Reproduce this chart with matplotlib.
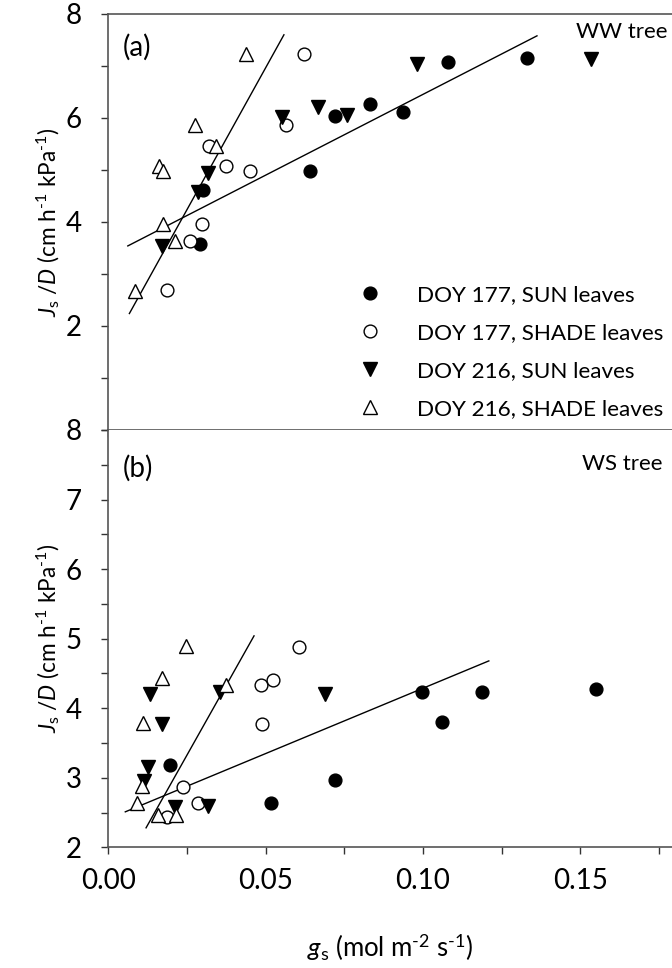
import matplotlib
matplotlib.use("Agg")
import matplotlib.pyplot as plt
from matplotlib.ticker import MultipleLocator, FixedLocator
from matplotlib.lines import Line2D

plt.rcParams['font.family'] = ['Lato', 'DejaVu Sans']
plt.rcParams['mathtext.fontset'] = 'custom'
plt.rcParams['mathtext.rm'] = 'Lato'
plt.rcParams['mathtext.it'] = 'Lato:italic'

# ---------------- data: panel (a) WW tree ----------------
a_sun177_x = [0.029, 0.030, 0.064, 0.072, 0.083, 0.0935, 0.108, 0.133]
a_sun177_y = [3.57, 4.62, 4.98, 6.04, 6.26, 6.11, 7.08, 7.16]
a_shade177_x = [0.0186, 0.0261, 0.0298, 0.0320, 0.0373, 0.0450, 0.0566, 0.0621]
a_shade177_y = [2.69, 3.64, 3.97, 5.47, 5.08, 4.99, 5.87, 7.23]
a_sun216_x = [0.0171, 0.0285, 0.0316, 0.0553, 0.0665, 0.0757, 0.098, 0.1535]
a_sun216_y = [3.53, 4.58, 4.95, 6.01, 6.22, 6.06, 7.04, 7.13]
a_shade216_x = [0.0086, 0.0173, 0.0213, 0.0162, 0.0173, 0.0274, 0.0343, 0.0439]
a_shade216_y = [2.68, 3.97, 3.64, 5.08, 4.99, 5.87, 5.46, 7.23]
a_steep_x = [0.0067, 0.0558]
a_steep_y = [2.24, 7.60]
a_shallow_x = [0.0062, 0.1362]
a_shallow_y = [3.54, 7.58]

# ---------------- data: panel (b) WS tree ----------------
b_sun177_x = [0.0196, 0.0518, 0.072, 0.0998, 0.1061, 0.1187, 0.155]
b_sun177_y = [3.19, 2.63, 2.97, 4.235, 3.80, 4.235, 4.27]
b_shade177_x = [0.0186, 0.0237, 0.0285, 0.0488, 0.0486, 0.0523, 0.0605]
b_shade177_y = [2.44, 2.87, 2.63, 3.78, 4.33, 4.41, 4.88]
b_sun216_x = [0.0131, 0.0171, 0.0125, 0.0115, 0.0213, 0.0316, 0.0354, 0.0688]
b_sun216_y = [4.20, 3.78, 3.16, 2.95, 2.58, 2.59, 4.235, 4.20]
b_shade216_x = [0.0247, 0.0171, 0.0375, 0.0109, 0.0107, 0.009, 0.0157, 0.0216]
b_shade216_y = [4.89, 4.44, 4.33, 3.79, 2.88, 2.63, 2.46, 2.46]
b_steep_x = [0.012, 0.0463]
b_steep_y = [2.28, 5.04]
b_shallow_x = [0.0054, 0.1209]
b_shallow_y = [2.51, 4.68]

legend_labels = ['DOY 177, SUN leaves', 'DOY 177, SHADE leaves',
                 'DOY 216, SUN leaves', 'DOY 216, SHADE leaves']

x_ticks = [0.00, 0.05, 0.10, 0.15]
x_ticklabels = ['0.00', '0.05', '0.10', '0.15']

W, H = 672, 968
fig = plt.figure(figsize=(W / 100, H / 100), dpi=100)
left = 108.3 / W
width = 1 - left
ax1 = fig.add_axes([left, 1 - 430 / H, width, (430 - 14) / H])
ax2 = fig.add_axes([left, 1 - 847.3 / H, width, (847.3 - 430) / H])

spine_col = '#555555'
styles = [
    dict(marker='o', ms=9.2, mfc='black', mec='black', mew=1.0),
    dict(marker='o', ms=9.2, mfc='white', mec='black', mew=1.0),
    dict(marker='v', ms=9.6, mfc='black', mec='black', mew=1.0),
    dict(marker='^', ms=9.6, mfc='white', mec='black', mew=1.0),
]

def draw(ax, series, lines):
    for (xs, ys), st in zip(series, styles):
        ax.plot(xs, ys, linestyle='none', zorder=3, **st)
    for lx, ly in lines:
        ax.plot(lx, ly, color='black', lw=1.0, zorder=2)
    ax.set_xlim(0, 0.1791)
    ax.spines['right'].set_visible(False)
    for s in ['top', 'left', 'bottom']:
        ax.spines[s].set_color(spine_col)
        ax.spines[s].set_linewidth(1.2)
    ax.xaxis.set_major_locator(FixedLocator(x_ticks))
    ax.xaxis.set_minor_locator(MultipleLocator(0.025))
    ax.tick_params(axis='both', which='both', direction='out', length=5,
                   width=1.0, color='#333333', labelsize=20, pad=14)
    ax.tick_params(axis='x', pad=10)

draw(ax1,
     [(a_sun177_x, a_sun177_y), (a_shade177_x, a_shade177_y),
      (a_sun216_x, a_sun216_y), (a_shade216_x, a_shade216_y)],
     [(a_steep_x, a_steep_y), (a_shallow_x, a_shallow_y)])
draw(ax2,
     [(b_sun177_x, b_sun177_y), (b_shade177_x, b_shade177_y),
      (b_sun216_x, b_sun216_y), (b_shade216_x, b_shade216_y)],
     [(b_steep_x, b_steep_y), (b_shallow_x, b_shallow_y)])

ax1.set_ylim(0, 8)
ax1.set_yticks([0, 2, 4, 6, 8], ['', '2', '4', '6', '8'])
ax1.yaxis.set_minor_locator(FixedLocator([1, 3, 5, 7]))
ax1.tick_params(axis='x', labelbottom=False)

ax2.set_ylim(2, 8)
ax2.set_yticks([2, 3, 4, 5, 6, 7, 8])
ax2.yaxis.set_minor_locator(FixedLocator([2.5, 3.5, 4.5, 5.5, 6.5, 7.5]))
ax2.set_xticklabels(x_ticklabels)
ax2.spines['top'].set_visible(False)

hy = '\u2010'
ylab = r'$J_\mathrm{s}$ /$D$ (cm h$^{' + hy + r'1}$ kPa$^{' + hy + r'1}$)'
for ax in (ax1, ax2):
    ax.set_ylabel(ylab, fontsize=16.3, labelpad=3)
ax2.set_xlabel(r'$g_\mathrm{s}$ (mol m$^{' + hy + r'2}$ s$^{' + hy + r'1}$)',
               fontsize=18.5, labelpad=27)

def ftext(x, y, s, **kw):
    fig.text(x / W, 1 - y / H, s, **kw)

ftext(123, 47.5, '(a)', fontsize=20, ha='left', va='center')
ftext(667, 31.5, 'WW tree', fontsize=16, ha='right', va='center')
ftext(123, 468, '(b)', fontsize=20, ha='left', va='center')
ftext(662, 464, 'WS tree', fontsize=16, ha='right', va='center')

handles = [Line2D([], [], linestyle='none', **st) for st in styles]
leg_fs = 16.2
em = leg_fs * 100 / 72
ax1.legend(handles, legend_labels, loc='upper left',
           bbox_to_anchor=((370 - em * 0.5) / W, 1 - 285 / H),
           bbox_transform=fig.transFigure, frameon=False,
           fontsize=leg_fs, handletextpad=(417 - 370 - em * 0.5) / em,
           labelspacing=0.8, borderaxespad=0, borderpad=0, handlelength=1.0)

fig.savefig('out.png', dpi=100)
